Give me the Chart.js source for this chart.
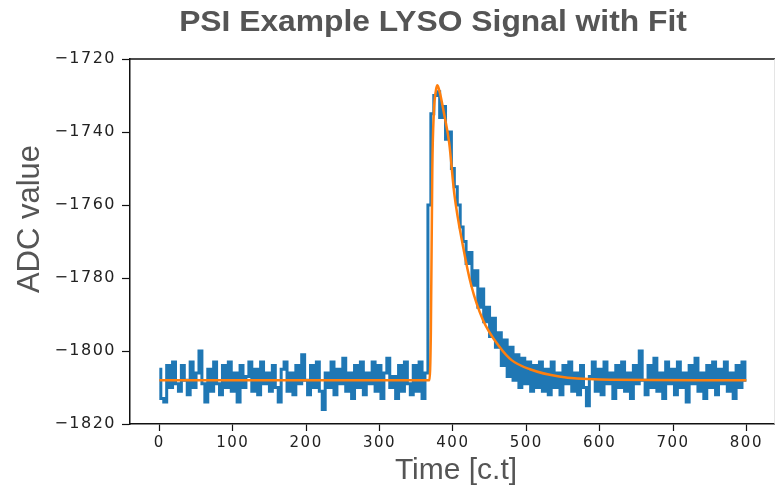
<!DOCTYPE html>
<html>
<head>
<meta charset="utf-8">
<script src="https://cdn.jsdelivr.net/npm/chart.js@4.4.1/dist/chart.umd.min.js"></script>
<style>
    html, body { margin: 0; padding: 0; background: #fff; }
    canvas { display: block; }
</style>
</head>
<body>
<canvas id="signal-chart" width="775" height="489"></canvas>
<script>
// title + axis labels
const chartTitle = 'PSI Example LYSO Signal with Fit';
const xLabel = 'Time [c.t]';
const yLabel = 'ADC value';

// tick labels
const xTicks = [0, 100, 200, 300, 400, 500, 600, 700, 800];
const yTicks = [-1820, -1800, -1780, -1760, -1740, -1720];

const signalTime = [
    0, 4, 8, 12, 16, 20, 24, 28, 32, 36, 40, 44, 48, 52, 56, 60, 64, 68, 72, 76, 80, 84, 88, 92, 96,
    100, 104, 108, 112, 116, 120, 124, 128, 132, 136, 140, 144, 148, 152, 156, 160, 164, 168, 172, 176, 180, 184, 188, 192, 196,
    200, 204, 208, 212, 216, 220, 224, 228, 232, 236, 240, 244, 248, 252, 256, 260, 264, 268, 272, 276, 280, 284, 288, 292, 296,
    300, 304, 308, 312, 316, 320, 324, 328, 332, 336, 340, 344, 348, 352, 356, 360, 364, 368, 372, 376, 380, 384, 388, 392, 396,
    400, 404, 408, 412, 416, 420, 424, 428, 432, 436, 440, 444, 448, 452, 456, 460, 464, 468, 472, 476, 480, 484, 488, 492, 496,
    500, 504, 508, 512, 516, 520, 524, 528, 532, 536, 540, 544, 548, 552, 556, 560, 564, 568, 572, 576, 580, 584, 588, 592, 596,
    600, 604, 608, 612, 616, 620, 624, 628, 632, 636, 640, 644, 648, 652, 656, 660, 664, 668, 672, 676, 680, 684, 688, 692, 696,
    700, 704, 708, 712, 716, 720, 724, 728, 732, 736, 740, 744, 748, 752, 756, 760, 764, 768, 772, 776, 780, 784, 788, 792, 796,
    800
];
const signalADC = [
    -1805, -1813, -1814, -1804, -1810, -1803, -1809, -1811, -1804, -1808, -1812, -1803, -1810, -1806, -1800, -1809, -1814, -1805, -1811, -1803, -1809, -1812, -1804, -1810, -1803,
    -1811, -1806, -1814, -1804, -1810, -1807, -1803, -1811, -1805, -1812, -1803, -1809, -1806, -1811, -1804, -1810, -1814, -1805, -1803, -1811, -1806, -1812, -1804, -1809, -1801,
    -1808, -1812, -1804, -1810, -1803, -1811, -1816, -1806, -1810, -1803, -1812, -1805, -1809, -1802, -1811, -1806, -1813, -1804, -1810, -1803, -1812, -1806, -1809, -1803, -1811,
    -1804, -1813, -1806, -1802, -1810, -1807, -1813, -1804, -1811, -1803, -1809, -1812, -1804, -1811, -1803, -1813, -1806, -1760, -1735, -1730, -1729, -1736, -1733, -1742, -1740,
    -1750, -1755, -1760, -1766, -1770, -1776, -1773, -1782, -1778, -1788, -1783, -1792, -1788, -1796, -1791, -1799, -1795, -1804, -1797, -1807, -1799, -1808, -1801, -1810, -1802,
    -1809, -1803, -1811, -1804, -1810, -1803, -1811, -1805, -1812, -1803, -1810, -1806, -1812, -1804, -1809, -1803, -1811, -1806, -1812, -1804, -1810, -1815, -1807, -1803, -1811,
    -1805, -1812, -1803, -1809, -1806, -1813, -1804, -1810, -1803, -1811, -1806, -1813, -1804, -1809, -1800, -1808, -1812, -1804, -1810, -1802, -1811, -1806, -1813, -1803, -1809,
    -1805, -1812, -1803, -1810, -1806, -1814, -1804, -1809, -1802, -1811, -1806, -1813, -1804, -1810, -1803, -1812, -1805, -1809, -1803, -1811, -1806, -1813, -1804, -1810, -1803,
    -1808
];

// fitted pulse shape
const fitTime = [0, 368, 370, 372, 374, 377, 379, 382, 388, 395, 402, 414, 425, 441, 464, 480, 505, 545, 600, 800];
const fitADC = [-1808, -1808, -1795, -1750, -1735, -1728.5, -1727.2, -1729, -1735, -1743, -1757, -1771.5, -1782, -1791.5, -1799, -1802.5, -1805, -1807, -1807.8, -1808];

const toPoints = (xs, ys) => xs.map((x, i) => ({ x: x, y: ys[i] }));
const minusSign = (v) => String(v).replace('-', '\u2212');

// top/right spines, the title and both axis labels
const framePlugin = {
    id: 'frame',
    beforeDraw(chart) {
        // tick labels in the picture are set quite wide
        chart.ctx.letterSpacing = '1.5px';
    },
    beforeDatasetsDraw(chart) {
        const { ctx, chartArea } = chart;
        ctx.save();
        ctx.lineWidth = 1.5;
        ctx.strokeStyle = '#111';
        ctx.beginPath();
        ctx.moveTo(chartArea.left, chartArea.top);
        ctx.lineTo(chartArea.right, chartArea.top);
        ctx.stroke();
        ctx.strokeStyle = '#ddd';
        ctx.beginPath();
        ctx.moveTo(chartArea.right, chartArea.top);
        ctx.lineTo(chartArea.right, chartArea.bottom);
        ctx.stroke();
        ctx.restore();
    },
    afterDraw(chart) {
        const ctx = chart.ctx;
        ctx.save();
        ctx.letterSpacing = '0px';
        ctx.fillStyle = '#555';
        ctx.textAlign = 'center';
        ctx.textBaseline = 'middle';
        ctx.save();
        ctx.translate(433, 23);
        ctx.scale(1.06, 1);
        ctx.font = 'bold 30px "Liberation Sans", Arial, sans-serif';
        ctx.fillText(chartTitle, 0, 0);
        ctx.restore();
        ctx.font = '30px "Liberation Sans", Arial, sans-serif';
        ctx.fillText(xLabel, 456, 471);
        ctx.font = '31px "Liberation Sans", Arial, sans-serif';
        ctx.translate(30, 219);
        ctx.rotate(-Math.PI / 2);
        ctx.fillText(yLabel, 0, 0);
        ctx.restore();
    }
};

const ctx = document.getElementById('signal-chart');

new Chart(ctx, {
    type: 'line',
    data: {
        datasets: [{
            label: 'Fit',
            data: toPoints(fitTime, fitADC),
            borderColor: '#ff7f0e',
            borderWidth: 2.5,
            pointRadius: 0,
            cubicInterpolationMode: 'monotone',
            order: 1
        },
        {
            label: 'Signal',
            data: toPoints(signalTime, signalADC),
            borderColor: '#1f77b4',
            borderWidth: 3,
            pointRadius: 0,
            stepped: 'middle',
            order: 2
        }]
    },
    options: {
        responsive: false,
        animation: false,
        layout: { padding: { top: 59, right: 0, left: 0, bottom: 0 } },
        plugins: {
            legend: { display: false },
            tooltip: { enabled: false }
        },
        scales: {
            x: {
                type: 'linear',
                min: -40,
                max: 839,
                afterBuildTicks: (scale) => { scale.ticks = xTicks.map(v => ({ value: v })); },
                afterFit: (scale) => { scale.height = 65; },
                border: { color: '#111', width: 1.5 },
                grid: { drawOnChartArea: false, tickLength: 7, color: '#111', tickWidth: 1.2 },
                ticks: {
                    color: '#222',
                    padding: 3,
                    maxRotation: 0,
                    font: { family: 'DejaVu Sans', size: 15 },
                    callback: (v) => minusSign(v)
                }
            },
            y: {
                min: -1820,
                max: -1720,
                afterBuildTicks: (scale) => { scale.ticks = yTicks.map(v => ({ value: v })); },
                afterFit: (scale) => { scale.width = 130; },
                border: { color: '#111', width: 1.5 },
                grid: { drawOnChartArea: false, tickLength: 8, color: '#111', tickWidth: 1.2 },
                ticks: {
                    color: '#222',
                    padding: 6,
                    font: { family: 'DejaVu Sans', size: 16 },
                    callback: (v) => minusSign(v)
                }
            }
        }
    },
    plugins: [framePlugin]
});
</script>
</body>
</html>
